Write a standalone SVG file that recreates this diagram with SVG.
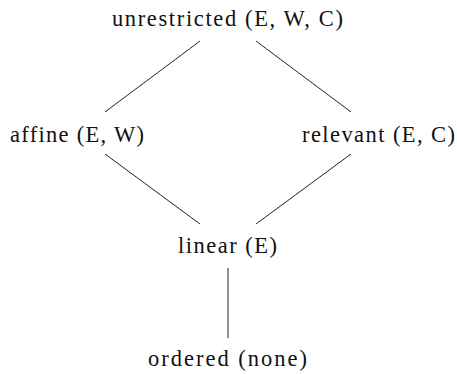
<svg xmlns="http://www.w3.org/2000/svg" width="457" height="374" viewBox="0 0 457 374">
<style>
text{font-family:"Liberation Serif","DejaVu Serif",serif;font-size:22.5px;fill:#111;text-anchor:middle}
line{stroke:#222;stroke-width:1}
</style>
<rect width="457" height="374" fill="#fff"/>
<g id="connectors">
<line x1="200" y1="41" x2="105" y2="112"/>
<line x1="256" y1="41" x2="351" y2="112"/>
<line x1="105" y1="154" x2="200" y2="224"/>
<line x1="351" y1="154" x2="256" y2="224"/>
<line x1="228" y1="268" x2="228" y2="338"/>
</g>
<g id="unrestricted"><text x="227.5" y="26" textLength="231" lengthAdjust="spacing">unrestricted (E, W, C)</text></g>
<g id="affine"><text x="77" y="142" textLength="134" lengthAdjust="spacing">affine (E, W)</text></g>
<g id="relevant"><text x="378.5" y="142" textLength="153" lengthAdjust="spacing">relevant (E, C)</text></g>
<g id="linear"><text x="227.5" y="253" textLength="99" lengthAdjust="spacing">linear (E)</text></g>
<g id="ordered"><text x="227.5" y="366" textLength="159" lengthAdjust="spacing">ordered (none)</text></g>
</svg>
